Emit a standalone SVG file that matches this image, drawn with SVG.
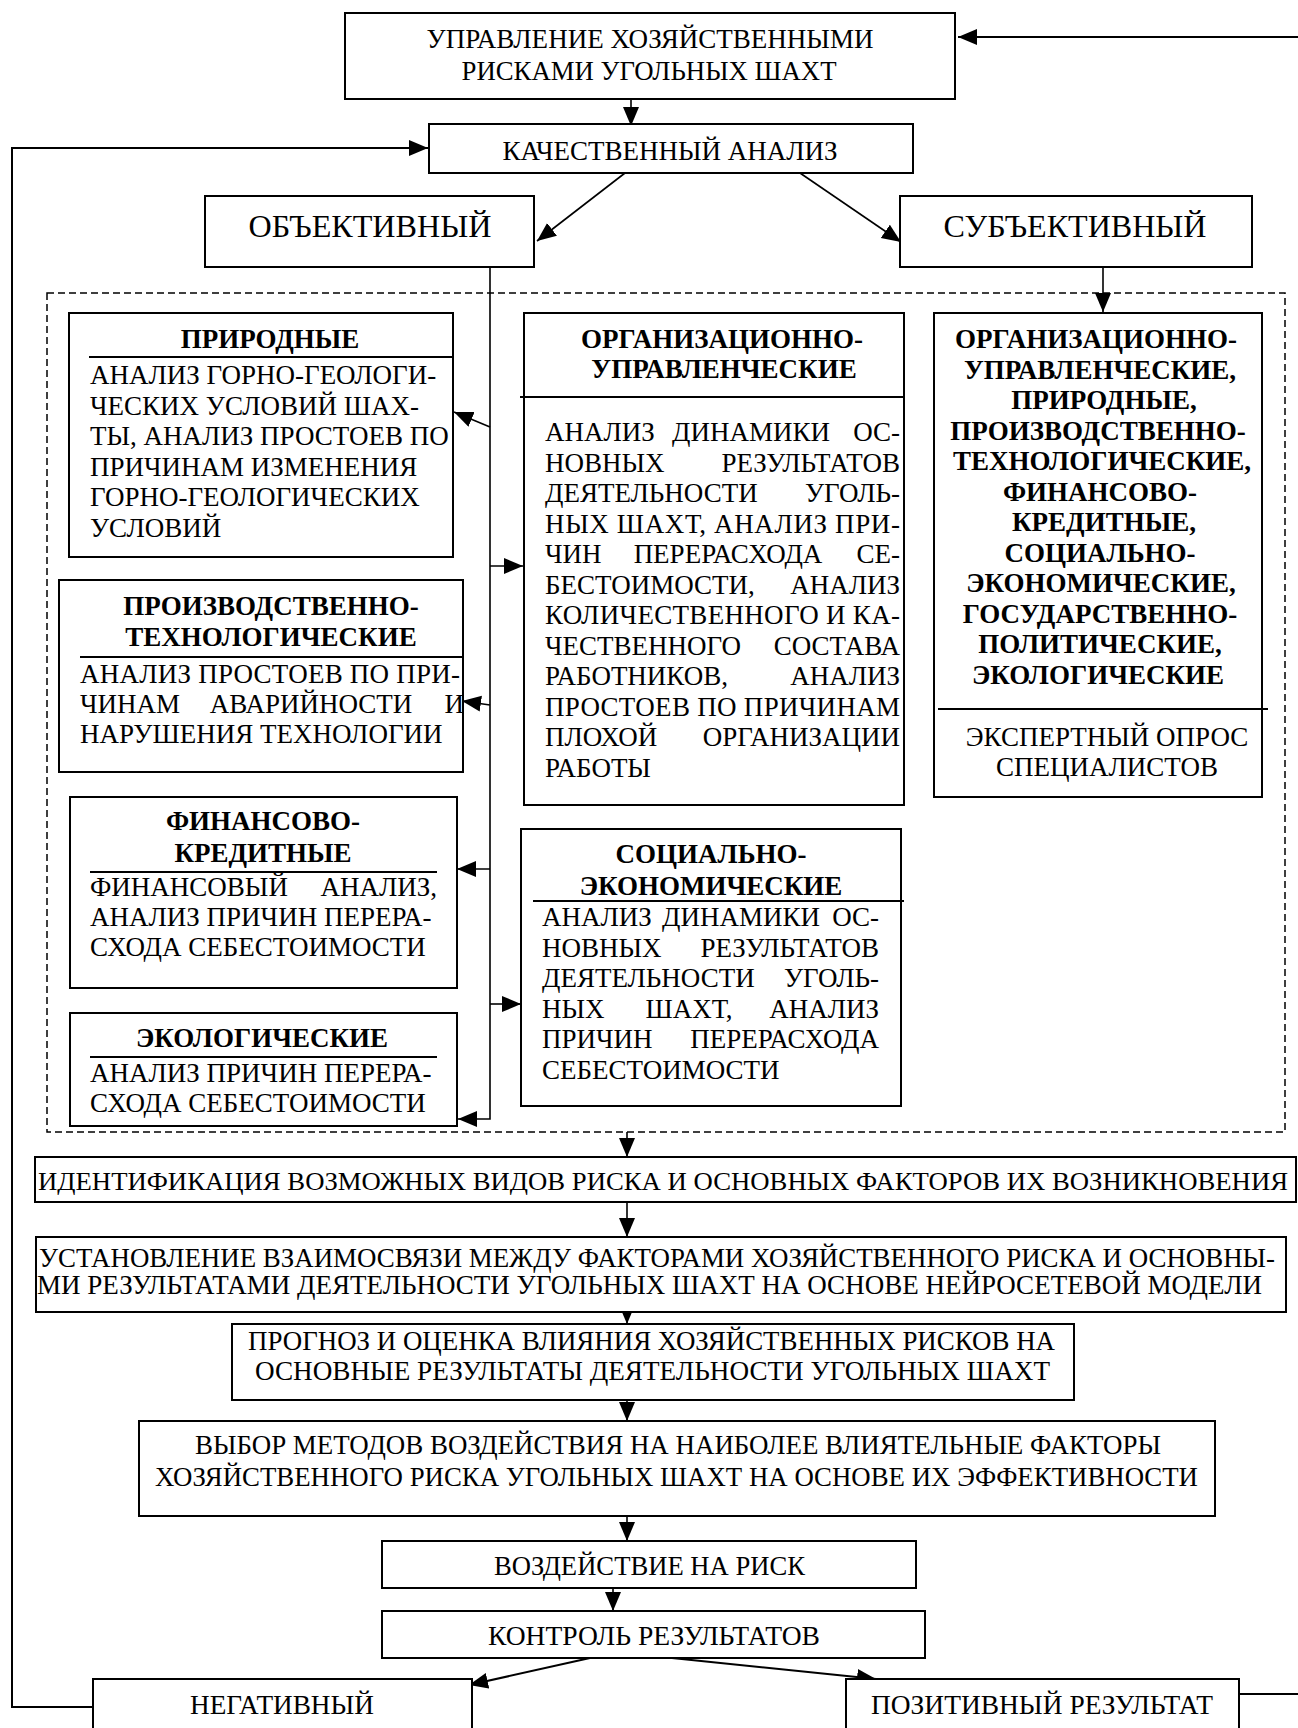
<svg xmlns="http://www.w3.org/2000/svg" width="1298" height="1728" viewBox="0 0 1298 1728">
<style>
.box{fill:#fff;stroke:#000;stroke-width:2}
.t{font-family:"Liberation Serif","Times New Roman",serif;font-size:27px;fill:#000}
.big{font-size:32px}
.b{font-weight:bold}
.c{text-anchor:middle}
.e{text-anchor:end}
.sep{stroke:#000;stroke-width:2}
.ln{fill:none;stroke:#000;stroke-width:1.6}
.fb{fill:none;stroke:#000;stroke-width:2}
.dash{fill:none;stroke:#000;stroke-width:1.5;stroke-dasharray:7,4}
</style>
<defs>
<marker id="ah" markerUnits="userSpaceOnUse" markerWidth="20" markerHeight="17" refX="19" refY="8" orient="auto">
<path d="M0,0 L19,8 L0,16 z" fill="#000"/>
</marker>
</defs>
<rect width="1298" height="1728" fill="#fff"/>

<rect class="dash" x="47" y="293" width="1238" height="839"/>

<g id="connectors">
<line class="fb" x1="1298" y1="37" x2="958" y2="37" marker-end="url(#ah)"/>
<path class="fb" d="M93,1707 H12 V148 H428" marker-end="url(#ah)"/>
<line class="fb" x1="1239" y1="1694" x2="1298" y2="1694"/>
<line class="ln" x1="631" y1="99" x2="631" y2="126" marker-end="url(#ah)"/>
<line class="ln" x1="625" y1="173" x2="537" y2="241" marker-end="url(#ah)"/>
<line class="ln" x1="800" y1="173" x2="901" y2="242" marker-end="url(#ah)"/>
<line class="ln" x1="1103" y1="267" x2="1103" y2="312" marker-end="url(#ah)"/>
<path class="ln" d="M490,267 V1119 H458" marker-end="url(#ah)"/>
<line class="ln" x1="490" y1="427" x2="454" y2="412" marker-end="url(#ah)"/>
<line class="ln" x1="490" y1="566" x2="523" y2="566" marker-end="url(#ah)"/>
<line class="ln" x1="490" y1="705" x2="462" y2="701" marker-end="url(#ah)"/>
<line class="ln" x1="490" y1="869" x2="457" y2="869" marker-end="url(#ah)"/>
<line class="ln" x1="490" y1="1004" x2="521" y2="1004" marker-end="url(#ah)"/>
<line class="ln" x1="627" y1="1132" x2="627" y2="1157" marker-end="url(#ah)"/>
<line class="ln" x1="627" y1="1202" x2="627" y2="1237" marker-end="url(#ah)"/>
<line class="ln" x1="627" y1="1300" x2="627" y2="1324" marker-end="url(#ah)"/>
<line class="ln" x1="627" y1="1398" x2="627" y2="1421" marker-end="url(#ah)"/>
<line class="ln" x1="627" y1="1516" x2="627" y2="1541" marker-end="url(#ah)"/>
<line class="ln" x1="613" y1="1586" x2="613" y2="1611" marker-end="url(#ah)"/>
<line class="fb" x1="590" y1="1658" x2="469" y2="1685" marker-end="url(#ah)"/>
<line class="fb" x1="672" y1="1658" x2="876" y2="1679" marker-end="url(#ah)"/>
</g>

<g id="n-top">
<rect class="box" x="345" y="13" width="610" height="86"/>
<text class="t c" x="650" y="48" textLength="447" lengthAdjust="spacingAndGlyphs">УПРАВЛЕНИЕ ХОЗЯЙСТВЕННЫМИ</text>
<text class="t c" x="649" y="80" textLength="375" lengthAdjust="spacingAndGlyphs">РИСКАМИ УГОЛЬНЫХ ШАХТ</text>
</g>

<g id="n-qual">
<rect class="box" x="429" y="124" width="484" height="49"/>
<text class="t c" x="670" y="160" textLength="335" lengthAdjust="spacingAndGlyphs">КАЧЕСТВЕННЫЙ АНАЛИЗ</text>
</g>

<g id="n-obj">
<rect class="box" x="205" y="196" width="329" height="71"/>
<text class="t big c" x="370" y="237" textLength="243" lengthAdjust="spacingAndGlyphs">ОБЪЕКТИВНЫЙ</text>
</g>

<g id="n-subj">
<rect class="box" x="900" y="196" width="352" height="71"/>
<text class="t big c" x="1075" y="237" textLength="263" lengthAdjust="spacingAndGlyphs">СУБЪЕКТИВНЫЙ</text>
</g>

<g id="n-nat">
<rect class="box" x="69" y="313" width="384" height="244"/>
<text class="t b c" x="270" y="348">ПРИРОДНЫЕ</text>
<line class="sep" x1="89" y1="357" x2="453" y2="357"/>
<text class="t" x="90" y="384">АНАЛИЗ ГОРНО-ГЕОЛОГИ-</text>
<text class="t" x="90" y="414.5">ЧЕСКИХ УСЛОВИЙ ШАХ-</text>
<text class="t" x="90" y="445">ТЫ, АНАЛИЗ ПРОСТОЕВ ПО</text>
<text class="t" x="90" y="475.5">ПРИЧИНАМ ИЗМЕНЕНИЯ</text>
<text class="t" x="90" y="506">ГОРНО-ГЕОЛОГИЧЕСКИХ</text>
<text class="t" x="90" y="536.5">УСЛОВИЙ</text>
</g>

<g id="n-prod">
<rect class="box" x="59" y="580" width="404" height="192"/>
<text class="t b c" x="271" y="615">ПРОИЗВОДСТВЕННО-</text>
<text class="t b c" x="271" y="646">ТЕХНОЛОГИЧЕСКИЕ</text>
<line class="sep" x1="80" y1="657" x2="463" y2="657"/>
<text class="t" x="80" y="683" textLength="380" lengthAdjust="spacing">АНАЛИЗ ПРОСТОЕВ ПО ПРИ-</text>
<text class="t" x="80" y="713">ЧИНАМ</text>
<text class="t c" x="311" y="713">АВАРИЙНОСТИ</text>
<text class="t e" x="464" y="713">И</text>
<text class="t" x="80" y="743">НАРУШЕНИЯ ТЕХНОЛОГИИ</text>
</g>

<g id="n-fin">
<rect class="box" x="70" y="797" width="387" height="191"/>
<text class="t b c" x="263" y="830">ФИНАНСОВО-</text>
<text class="t b c" x="263" y="862">КРЕДИТНЫЕ</text>
<line class="sep" x1="90" y1="872" x2="437" y2="872"/>
<text class="t" x="90" y="896">ФИНАНСОВЫЙ</text>
<text class="t e" x="437" y="896">АНАЛИЗ,</text>
<text class="t" x="90" y="926">АНАЛИЗ ПРИЧИН ПЕРЕРА-</text>
<text class="t" x="90" y="956">СХОДА СЕБЕСТОИМОСТИ</text>
</g>

<g id="n-eco">
<rect class="box" x="70" y="1013" width="387" height="113"/>
<text class="t b c" x="262" y="1047">ЭКОЛОГИЧЕСКИЕ</text>
<line class="sep" x1="90" y1="1057" x2="437" y2="1057"/>
<text class="t" x="90" y="1082">АНАЛИЗ ПРИЧИН ПЕРЕРА-</text>
<text class="t" x="90" y="1112">СХОДА СЕБЕСТОИМОСТИ</text>
</g>

<g id="n-org">
<rect class="box" x="524" y="313" width="380" height="492"/>
<text class="t b c" x="722" y="348">ОРГАНИЗАЦИОННО-</text>
<text class="t b c" x="724" y="378">УПРАВЛЕНЧЕСКИЕ</text>
<line class="sep" x1="520" y1="397" x2="904" y2="397"/>
<text class="t" x="545" y="441">АНАЛИЗ</text>
<text class="t c" x="751" y="441">ДИНАМИКИ</text>
<text class="t e" x="900" y="441">ОС-</text>
<text class="t" x="545" y="471.5">НОВНЫХ</text>
<text class="t e" x="900" y="471.5">РЕЗУЛЬТАТОВ</text>
<text class="t" x="545" y="502">ДЕЯТЕЛЬНОСТИ</text>
<text class="t e" x="900" y="502">УГОЛЬ-</text>
<text class="t" x="545" y="532.5" textLength="355" lengthAdjust="spacing">НЫХ ШАХТ, АНАЛИЗ ПРИ-</text>
<text class="t" x="545" y="563">ЧИН</text>
<text class="t c" x="728" y="563">ПЕРЕРАСХОДА</text>
<text class="t e" x="900" y="563">СЕ-</text>
<text class="t" x="545" y="593.5">БЕСТОИМОСТИ,</text>
<text class="t e" x="900" y="593.5">АНАЛИЗ</text>
<text class="t" x="545" y="624" textLength="355" lengthAdjust="spacing">КОЛИЧЕСТВЕННОГО И КА-</text>
<text class="t" x="545" y="654.5">ЧЕСТВЕННОГО</text>
<text class="t e" x="900" y="654.5">СОСТАВА</text>
<text class="t" x="545" y="685">РАБОТНИКОВ,</text>
<text class="t e" x="900" y="685">АНАЛИЗ</text>
<text class="t" x="545" y="715.5" textLength="355" lengthAdjust="spacing">ПРОСТОЕВ ПО ПРИЧИНАМ</text>
<text class="t" x="545" y="746">ПЛОХОЙ</text>
<text class="t e" x="900" y="746">ОРГАНИЗАЦИИ</text>
<text class="t" x="545" y="776.5">РАБОТЫ</text>
</g>

<g id="n-soc">
<rect class="box" x="521" y="829" width="380" height="277"/>
<text class="t b c" x="711" y="863">СОЦИАЛЬНО-</text>
<text class="t b c" x="711" y="895">ЭКОНОМИЧЕСКИЕ</text>
<line class="sep" x1="533" y1="901" x2="904" y2="901"/>
<text class="t" x="542" y="926">АНАЛИЗ</text>
<text class="t c" x="741" y="926">ДИНАМИКИ</text>
<text class="t e" x="879" y="926">ОС-</text>
<text class="t" x="542" y="956.5">НОВНЫХ</text>
<text class="t e" x="879" y="956.5">РЕЗУЛЬТАТОВ</text>
<text class="t" x="542" y="987">ДЕЯТЕЛЬНОСТИ</text>
<text class="t e" x="879" y="987">УГОЛЬ-</text>
<text class="t" x="542" y="1017.5">НЫХ</text>
<text class="t c" x="689" y="1017.5">ШАХТ,</text>
<text class="t e" x="879" y="1017.5">АНАЛИЗ</text>
<text class="t" x="542" y="1048">ПРИЧИН</text>
<text class="t e" x="879" y="1048">ПЕРЕРАСХОДА</text>
<text class="t" x="542" y="1078.5">СЕБЕСТОИМОСТИ</text>
</g>

<g id="n-subjlist">
<rect class="box" x="934" y="313" width="328" height="484"/>
<text class="t b c" x="1096" y="348">ОРГАНИЗАЦИОННО-</text>
<text class="t b c" x="1100" y="378.5">УПРАВЛЕНЧЕСКИЕ,</text>
<text class="t b c" x="1104" y="409">ПРИРОДНЫЕ,</text>
<text class="t b c" x="1098" y="439.5">ПРОИЗВОДСТВЕННО-</text>
<text class="t b c" x="1102" y="470">ТЕХНОЛОГИЧЕСКИЕ,</text>
<text class="t b c" x="1100" y="500.5">ФИНАНСОВО-</text>
<text class="t b c" x="1104" y="531">КРЕДИТНЫЕ,</text>
<text class="t b c" x="1100" y="561.5">СОЦИАЛЬНО-</text>
<text class="t b c" x="1101" y="592">ЭКОНОМИЧЕСКИЕ,</text>
<text class="t b c" x="1100" y="622.5">ГОСУДАРСТВЕННО-</text>
<text class="t b c" x="1100" y="653">ПОЛИТИЧЕСКИЕ,</text>
<text class="t b c" x="1098" y="683.5">ЭКОЛОГИЧЕСКИЕ</text>
<line class="sep" x1="938" y1="709" x2="1268" y2="709"/>
<text class="t c" x="1107" y="746">ЭКСПЕРТНЫЙ ОПРОС</text>
<text class="t c" x="1107" y="776">СПЕЦИАЛИСТОВ</text>
</g>

<g id="n-ident">
<rect class="box" x="35" y="1157" width="1261" height="45"/>
<text class="t" style="font-size:26px" x="38" y="1190" textLength="1250" lengthAdjust="spacingAndGlyphs">ИДЕНТИФИКАЦИЯ ВОЗМОЖНЫХ ВИДОВ РИСКА И ОСНОВНЫХ ФАКТОРОВ ИХ ВОЗНИКНОВЕНИЯ</text>
</g>

<g id="n-link">
<rect class="box" x="36" y="1237" width="1250" height="75"/>
<text class="t" x="39" y="1267" textLength="1236" lengthAdjust="spacingAndGlyphs">УСТАНОВЛЕНИЕ ВЗАИМОСВЯЗИ МЕЖДУ ФАКТОРАМИ ХОЗЯЙСТВЕННОГО РИСКА И ОСНОВНЫ-</text>
<text class="t" x="37" y="1294" textLength="1225" lengthAdjust="spacingAndGlyphs">МИ РЕЗУЛЬТАТАМИ ДЕЯТЕЛЬНОСТИ УГОЛЬНЫХ ШАХТ НА ОСНОВЕ НЕЙРОСЕТЕВОЙ МОДЕЛИ</text>
</g>

<g id="n-forecast">
<rect class="box" x="232" y="1324" width="842" height="76"/>
<text class="t" x="248" y="1350" textLength="807" lengthAdjust="spacingAndGlyphs">ПРОГНОЗ И ОЦЕНКА ВЛИЯНИЯ ХОЗЯЙСТВЕННЫХ РИСКОВ НА</text>
<text class="t" x="255" y="1380" textLength="795" lengthAdjust="spacingAndGlyphs">ОСНОВНЫЕ РЕЗУЛЬТАТЫ ДЕЯТЕЛЬНОСТИ УГОЛЬНЫХ ШАХТ</text>
</g>

<g id="n-choice">
<rect class="box" x="139" y="1421" width="1076" height="95"/>
<text class="t" x="195" y="1454" textLength="966" lengthAdjust="spacingAndGlyphs">ВЫБОР МЕТОДОВ ВОЗДЕЙСТВИЯ НА НАИБОЛЕЕ ВЛИЯТЕЛЬНЫЕ ФАКТОРЫ</text>
<text class="t" x="155" y="1486" textLength="1043" lengthAdjust="spacingAndGlyphs">ХОЗЯЙСТВЕННОГО РИСКА УГОЛЬНЫХ ШАХТ НА ОСНОВЕ ИХ ЭФФЕКТИВНОСТИ</text>
</g>

<g id="n-act">
<rect class="box" x="382" y="1541" width="534" height="47"/>
<text class="t" x="494" y="1575" textLength="311" lengthAdjust="spacingAndGlyphs">ВОЗДЕЙСТВИЕ НА РИСК</text>
</g>

<g id="n-ctrl">
<rect class="box" x="382" y="1611" width="543" height="47"/>
<text class="t" x="488" y="1645" textLength="332" lengthAdjust="spacingAndGlyphs">КОНТРОЛЬ РЕЗУЛЬТАТОВ</text>
</g>

<g id="n-neg">
<rect class="box" x="93" y="1679" width="379" height="70"/>
<text class="t" x="190" y="1714" textLength="184" lengthAdjust="spacingAndGlyphs">НЕГАТИВНЫЙ</text>
</g>

<g id="n-pos">
<rect class="box" x="846" y="1679" width="393" height="70"/>
<text class="t" x="871" y="1714" textLength="342" lengthAdjust="spacingAndGlyphs">ПОЗИТИВНЫЙ РЕЗУЛЬТАТ</text>
</g>
</svg>
